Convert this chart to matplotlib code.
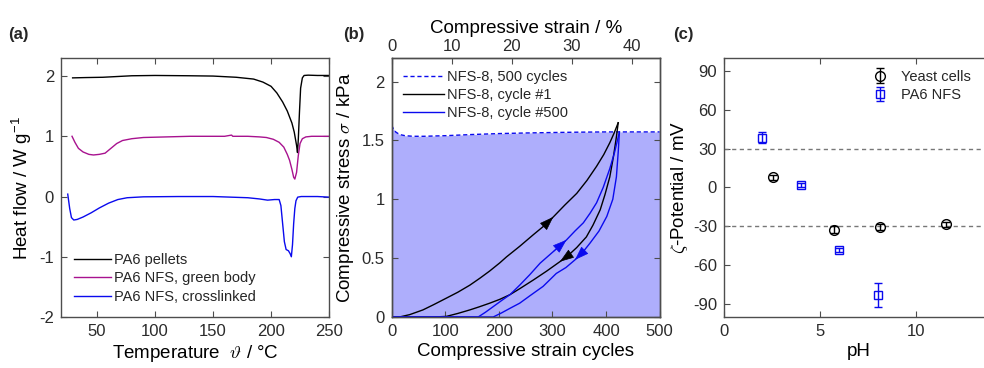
import matplotlib
matplotlib.use('Agg')
import matplotlib.pyplot as plt
import numpy as np

plt.rcParams.update({
    "font.family": ["Liberation Sans", "DejaVu Sans"],
    "font.size": 12,
    "mathtext.fontset": "cm",
    "axes.unicode_minus": False,
    "axes.edgecolor": "#4d4d4d",
    "axes.linewidth": 1.0,
    "xtick.color": "#4d4d4d",
    "ytick.color": "#4d4d4d",
    "xtick.labelcolor": "#2b2b2b",
    "ytick.labelcolor": "#2b2b2b",
    "xtick.direction": "in",
    "ytick.direction": "in",
    "xtick.major.size": 4,
    "ytick.major.size": 4,
    "text.color": "#262626",
})

# (a) DSC curves: temperature / degC, heat flow / W g^-1
pellets_T = [29, 40, 55, 65, 80, 100, 130, 150, 170, 185, 193, 200, 205, 210, 214, 218, 220, 222,
             222.8, 223.5, 224.5, 225.5, 227, 228.5, 232, 240, 250]
pellets_q = [1.97, 1.975, 1.98, 1.99, 2.005, 2.01, 2.005, 2.0, 1.98, 1.95, 1.90, 1.83, 1.72, 1.57,
             1.42, 1.22, 1.07, 0.85, 0.73, 0.95, 1.4, 1.8, 1.97, 2.01, 2.015, 2.01, 2.01]
green_T = [28.5, 31, 34, 38, 43, 47, 52, 57, 62, 67, 72, 80, 90, 110, 130, 160, 166, 167, 168, 180,
           190, 196, 202, 207, 211, 214, 216, 218, 219.5, 220.5, 222, 223.5, 225, 227, 230, 235, 250]
green_q = [1.0, 0.9, 0.8, 0.74, 0.7, 0.69, 0.7, 0.72, 0.8, 0.88, 0.93, 0.96, 0.98, 0.99, 1.0, 1.0,
           1.02, 1.0, 1.0, 1.0, 0.99, 0.98, 0.95, 0.9, 0.82, 0.7, 0.6, 0.45, 0.32, 0.29, 0.4, 0.68,
           0.88, 0.96, 0.99, 1.0, 1.0]
cross_T = [24.8, 26.5, 28, 30, 33, 38, 45, 52, 60, 68, 76, 90, 120, 150, 180, 190, 197, 203, 207,
           208.5, 210, 211.5, 213, 215, 216.5, 217.5, 218.5, 219.5, 220.5, 221.5, 223, 226, 240, 250]
cross_q = [0.04, -0.2, -0.35, -0.39, -0.38, -0.34, -0.27, -0.19, -0.11, -0.05, -0.02, -0.005, 0.0,
           0.0, -0.02, -0.04, -0.06, -0.05, -0.05, -0.15, -0.45, -0.75, -0.88, -0.9, -0.95, -1.0,
           -0.8, -0.45, -0.2, -0.07, -0.01, 0.0, 0.0, -0.01]

# (b) max stress over 500 cycles, and stress-strain loops
cyc_n = [0, 3, 8, 15, 25, 40, 60, 100, 150, 200, 250, 300, 350, 400, 450, 500]
cyc_s = [1.63, 1.6, 1.57, 1.55, 1.54, 1.535, 1.535, 1.54, 1.55, 1.558, 1.563, 1.567, 1.57, 1.572,
         1.572, 1.572]
c1_up_e = [0, 1.3, 3, 5.2, 7, 9.1, 11, 13, 14.7, 16.3, 18, 19.1, 21.3, 23.6, 25.5, 26.9, 28.8, 30.8,
           32.5, 34.1, 35.3, 36.3, 37.0, 37.7]
c1_up_s = [0, 0.0, 0.02, 0.06, 0.105, 0.16, 0.21, 0.27, 0.33, 0.39, 0.46, 0.51, 0.6, 0.7, 0.78,
           0.85, 0.95, 1.05, 1.16, 1.28, 1.38, 1.48, 1.56, 1.65]
c1_dn_e = [37.7, 37.4, 36.9, 36.3, 35.5, 34.7, 33.5, 32.4, 30.8, 29.1, 28, 25.8, 23.6, 21.3, 19.7,
           18, 16.3, 14.5, 13, 11, 9.1, 7, 4, 0]
c1_dn_s = [1.65, 1.53, 1.36, 1.19, 1.04, 0.91, 0.78, 0.68, 0.59, 0.51, 0.47, 0.39, 0.315, 0.24,
           0.19, 0.15, 0.117, 0.085, 0.06, 0.03, 0.005, 0, 0, 0]
c500_up_e = [0, 14.4, 15.6, 16.9, 18.3, 19.7, 21.3, 23, 24.7, 27, 29.1, 30.5, 31.9, 33, 34.1, 35.2,
             36.3, 37.1, 37.9]
c500_up_s = [0, 0, 0.04, 0.088, 0.14, 0.19, 0.27, 0.36, 0.457, 0.56, 0.655, 0.73, 0.80, 0.88, 0.97,
             1.1, 1.26, 1.4, 1.57]
c500_dn_e = [37.9, 37.7, 37.4, 36.8, 35.8, 34.5, 33, 31.8, 30.5, 29, 27.4, 25.2, 23, 21.3, 19.7,
             18.3, 16.9, 14.4, 0]
c500_dn_s = [1.57, 1.4, 1.19, 1.0, 0.854, 0.73, 0.627, 0.55, 0.485, 0.42, 0.37, 0.26, 0.18, 0.117,
             0.074, 0.035, 0, 0, 0]

# (c) zeta potential
yeast_ph = [2.57, 5.7, 8.1, 11.55]
yeast_zeta = [8, -32.5, -30.5, -28.5]
yeast_err = [2, 2.5, 2, 2]
nfs_ph = [2.0, 4.0, 6.0, 8.0]
nfs_zeta = [38.3, 2.0, -48.3, -83]
nfs_err = [4.2, 1.5, 1.5, 9]

BLUE = '#0a0aee'
MAGENTA = '#a8128f'
FILL = '#aeaefc'

fig = plt.figure(figsize=(9.84, 3.68), dpi=100)
axa = fig.add_axes([0.062, 0.1386, 0.2724, 0.7038])
axb = fig.add_axes([0.398, 0.1386, 0.2724, 0.7038])
axc = fig.add_axes([0.7358, 0.1386, 0.2734, 0.7038])

for ax in (axa, axb, axc):
    ax.tick_params(top=True, right=True, labelsize=12, pad=5)

# ---- (a)
axa.plot(pellets_T, pellets_q, color='black', lw=1.0, label='PA6 pellets')
axa.plot(green_T, green_q, color=MAGENTA, lw=1.0, label='PA6 NFS, green body')
axa.plot(cross_T, cross_q, color=BLUE, lw=1.0, label='PA6 NFS, crosslinked')
axa.set_xlim(19, 250)
axa.set_ylim(-2, 2.3)
axa.set_xticks([50, 100, 150, 200, 250])
axa.set_yticks([-2, -1, 0, 1, 2])
axa.set_xlabel(r'Temperature  $\vartheta$ / °C', fontsize=13.5, labelpad=3)
axa.set_ylabel(r'Heat flow / W g$^{\mathregular{-1}}$', fontsize=13.5, labelpad=4)
axa.legend(loc='lower left', frameon=False, fontsize=10.5, handlelength=2.5, handletextpad=0.2,
           labelspacing=0.3, borderaxespad=0.5)

# ---- (b)
axb.fill_between(cyc_n, 0, cyc_s, color=FILL, lw=0)
axb.plot(cyc_n, cyc_s, color=BLUE, lw=1.0, ls=(0, (3, 2)))
axb.set_xlim(0, 500)
axb.set_ylim(0, 2.2)
axb.set_xticks([0, 100, 200, 300, 400, 500])
axb.set_yticks([0, 0.5, 1, 1.5, 2])
axb.set_yticklabels(['0', '0.5', '1', '1.5', '2'])
axb.set_xlabel('Compressive strain cycles', fontsize=13.5, labelpad=3)
axb.set_ylabel(r'Compressive stress $\sigma$ / kPa', fontsize=13.5, labelpad=4)
axb.tick_params(top=False)

axb2 = axb.twiny()
axb2.set_xlim(0, 44.6)
axb2.set_xticks([0, 10, 20, 30, 40])
axb2.tick_params(labelsize=12, pad=3)
axb2.set_xlabel('Compressive strain / %', fontsize=13.5, labelpad=4)
axb2.plot([], [], color=BLUE, lw=1.0, ls=(0, (3, 2)), label='NFS-8, 500 cycles')
axb2.plot(c1_up_e, c1_up_s, color='black', lw=1.0, label='NFS-8, cycle #1')
axb2.plot(c1_dn_e, c1_dn_s, color='black', lw=1.0)
axb2.plot(c500_up_e, c500_up_s, color=BLUE, lw=1.0, label='NFS-8, cycle #500')
axb2.plot(c500_dn_e, c500_dn_s, color=BLUE, lw=1.0)

# direction arrows along the loops
for xs, ys, i, col in [(c1_up_e, c1_up_s, 15, 'black'), (c1_dn_e, c1_dn_s, 10, 'black'),
                       (c500_up_e, c500_up_s, 10, BLUE), (c500_dn_e, c500_dn_s, 8, BLUE)]:
    axb2.annotate('', xy=(xs[i], ys[i]), xytext=(xs[i - 1], ys[i - 1]),
                  arrowprops=dict(arrowstyle='-|>,head_length=1.0,head_width=0.35', color=col,
                                  lw=0.5, shrinkA=0, shrinkB=0, mutation_scale=9))
axb2.legend(loc='upper left', frameon=False, fontsize=10.5, handlelength=2.8, handletextpad=0.2,
            labelspacing=0.3, borderaxespad=0.4)

# ---- (c)
axc.axhline(30, color='#777777', lw=1.0, ls=(0, (3, 2.5)))
axc.axhline(-30, color='#777777', lw=1.0, ls=(0, (3, 2.5)))
axc.errorbar(yeast_ph, yeast_zeta, yerr=yeast_err, fmt='o', mfc='none', mec='black', color='black',
             ms=7, mew=1.0, capsize=3, elinewidth=1.0, label='Yeast cells')
axc.errorbar(nfs_ph, nfs_zeta, yerr=nfs_err, fmt='s', mfc='none', mec=BLUE, color=BLUE,
             ms=6, mew=1.0, capsize=3, elinewidth=1.0, label='PA6 NFS')
axc.set_xlim(0, 14)
axc.set_ylim(-100, 100)
axc.set_xticks([0, 5, 10])
axc.set_yticks([-90, -60, -30, 0, 30, 60, 90])
axc.set_xlabel('pH', fontsize=13.5, labelpad=3)
axc.set_ylabel(r'$\zeta$-Potential / mV', fontsize=13.5, labelpad=2)
axc.legend(loc='upper right', bbox_to_anchor=(0.96, 1.0), frameon=False, fontsize=10.5,
           handlelength=1.2, handletextpad=0.8, labelspacing=0.3, borderaxespad=0.4)

fig.text(0.008, 0.895, '(a)', fontsize=12, fontweight='bold')
fig.text(0.349, 0.895, '(b)', fontsize=12, fontweight='bold')
fig.text(0.684, 0.895, '(c)', fontsize=12, fontweight='bold')

fig.savefig('out.png', dpi=100)
